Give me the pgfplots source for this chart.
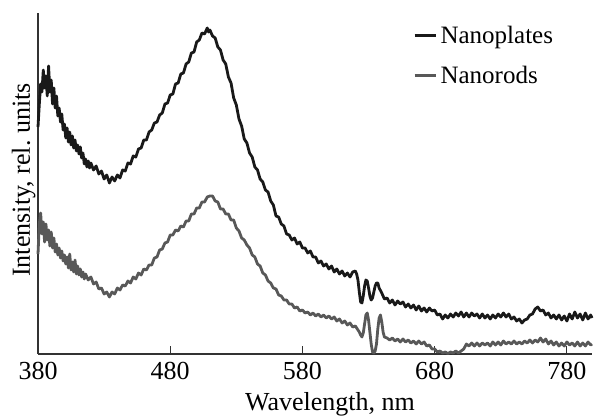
\documentclass[border=0pt]{standalone}
\usepackage{fontspec}
\setmainfont{Liberation Serif}
\usepackage{pgfplots}
\pgfplotsset{compat=1.18}
\definecolor{plates}{RGB}{25,25,25}
\definecolor{rods}{RGB}{88,88,88}
\definecolor{axc}{RGB}{50,50,50}
\begin{document}
\frenchspacing
\begin{tikzpicture}[x=1pt,y=1pt]
\useasboundingbox (0,0) rectangle (596,419);
\begin{axis}[
  at={(38pt,65pt)}, anchor=south west,
  scale only axis, width=554pt, height=341pt,
  xmin=380, xmax=799, ymin=0, ymax=341,
  axis x line=bottom, axis y line=left,
  axis line style={axc, line width=1.1pt, -},
  xtick={380,480,580,680,780}, ytick=\empty,
  tick align=inside, major tick length=8pt,
  every tick/.style={axc, line width=1.1pt},
  /pgf/number format/assume math mode=true,
  /pgf/number format/1000 sep={},
  xticklabel style={font=\fontsize{26}{30}\selectfont, anchor=base, yshift=-26pt},
  xlabel={Wavelength, nm},
  xlabel style={font=\fontsize{26}{30}\selectfont, at={(axis description cs:0.527,-0.147)}, anchor=center},
  ylabel={Intensity, rel. units},
  ylabel style={font=\fontsize{26}{30}\selectfont, at={(axis description cs:-0.026,0.51)}, anchor=center},
  clip=false,
  legend style={at={(axis description cs:0.677,0.962)}, anchor=north west, draw=none, fill=none,
    font=\fontsize{25}{29}\selectfont, row sep=21pt, inner sep=0pt, nodes={inner xsep=3.5pt, inner ysep=0pt}},
  legend cell align=left,
  legend image code/.code={\draw[#1, line width=2.8pt] (0pt,0pt) -- (21pt,0pt);},
]
\addplot[plates, line width=2.8pt, line join=round] coordinates {
(380,227)(381,250)(382,270)(383,262)(384,284)(385,266)(386,278)(387,258)(388,288)(389,262)(390,274)(391,250)(392,266)(393,246)(394,258)(395,238)(396,246)(397,232)(398,240)(399,224)(400,230)(401,216)(402,226)(403,212)(404,222)(405,209)(406,218)(407,206)(408,214)(409,203)(410,209)(411,200)(412,207)(413,196)(414,201)(415,190)(416,195)(417,187)(418,193)(419,186)(420,191)(422,184)(424,188)(426,180)(428,183)(430,175)(432,179)(434,171)(436,177)(438,173)(440,179)(442,176)(444,184)(446,183)(448,191)(450,190)(452,198)(454,197)(456,205)(458,206)(460,214)(462,214)(464,222)(466,224)(468,231)(470,232)(472,239)(474,241)(476,250)(478,251)(480,259)(482,260)(484,270)(486,271)(488,280)(490,281)(492,290)(494,292)(496,301)(498,302)(500,312)(502,314)(504,321)(506,320)(508,326)(509,322)(510,324)(512,318)(514,316)(516,307)(518,304)(520,294)(522,290)(524,277)(526,271)(528,256)(530,249)(532,235)(534,228)(536,215)(538,211)(540,201)(542,197)(544,187)(546,184)(548,175)(550,172)(552,164)(554,162)(556,153)(558,149)(560,138)(562,137)(564,130)(566,128)(568,120)(570,119)(572,114)(574,116)(576,110)(578,112)(580,106)(582,106)(584,101)(586,103)(588,97)(590,97)(592,91)(594,93)(596,88)(598,90)(600,85)(602,88)(604,82)(606,85)(608,80)(610,83)(612,78)(614,81)(616,77)(618,82)(620,83)(621,80)(622,74)(623,62)(624,52)(625,51)(626,58)(627,68)(628,74)(629,73)(630,66)(631,58)(632,54)(633,56)(634,62)(635,68)(636,71)(637,71)(638,66)(640,61)(642,55)(644,56)(646,51)(648,54)(650,49)(652,53)(654,50)(656,52)(658,47)(660,50)(662,46)(664,49)(666,44)(668,48)(670,43)(672,46)(674,42)(676,46)(678,43)(680,44)(682,39)(684,40)(686,35)(688,39)(690,36)(692,40)(694,37)(696,41)(698,38)(700,42)(702,37)(704,41)(706,37)(708,41)(710,38)(712,40)(714,36)(716,40)(718,36)(720,39)(722,35)(724,39)(726,36)(728,40)(730,37)(732,41)(734,37)(736,40)(738,35)(740,37)(742,33)(744,35)(746,31)(748,34)(750,35)(752,39)(754,40)(756,45)(758,47)(760,43)(762,44)(764,39)(766,41)(768,36)(770,39)(772,35)(774,39)(776,34)(778,38)(780,33)(782,40)(784,35)(786,42)(788,36)(790,40)(792,34)(794,41)(796,35)(798,39)(799,36)
};
\addlegendentry{Nanoplates}
\addplot[rods, line width=2.8pt, line join=round] coordinates {
(380,100)(381,130)(382,141)(383,120)(384,132)(385,112)(386,130)(387,114)(388,124)(389,108)(390,122)(391,106)(392,116)(393,102)(394,110)(395,99)(396,106)(397,96)(398,103)(399,93)(400,99)(401,90)(402,97)(403,86)(404,100)(405,84)(406,92)(407,82)(408,94)(409,80)(410,88)(411,79)(412,85)(413,77)(414,82)(415,75)(416,80)(418,74)(420,77)(422,70)(424,72)(426,65)(428,66)(430,60)(432,62)(434,57)(436,62)(438,60)(440,66)(442,64)(444,69)(446,68)(448,73)(450,71)(452,77)(454,75)(456,81)(458,79)(460,85)(462,84)(464,89)(466,89)(468,96)(470,97)(472,104)(474,105)(476,111)(478,112)(480,119)(482,119)(484,124)(486,123)(488,128)(490,127)(492,133)(494,133)(496,140)(498,140)(500,146)(502,146)(504,152)(506,152)(508,157)(510,158)(512,158)(514,153)(516,152)(518,145)(520,145)(522,140)(524,140)(526,134)(528,134)(530,126)(532,123)(534,116)(536,114)(538,109)(540,106)(542,99)(544,97)(546,90)(548,88)(550,81)(552,79)(554,73)(556,71)(558,66)(560,65)(562,59)(564,58)(566,54)(568,54)(570,50)(572,50)(574,46)(576,47)(578,43)(580,44)(582,41)(584,42)(586,39)(588,41)(590,38)(592,40)(594,37)(596,39)(598,36)(600,38)(602,35)(604,37)(606,33)(608,35)(610,31)(612,33)(614,29)(616,31)(618,27)(620,28)(622,24)(623,22)(624,19)(625,17)(626,21)(627,30)(628,39)(629,41)(630,34)(631,22)(632,10)(633,2)(634,1)(635,3)(636,10)(637,25)(638,36)(639,39)(640,32)(641,22)(642,17)(644,16)(646,14)(648,16)(650,13)(652,15)(654,12)(656,15)(658,12)(660,14)(662,11)(664,13)(666,10)(668,13)(670,10)(672,12)(674,8)(676,9)(678,5)(680,5)(682,2)(684,3)(686,1)(688,2)(690,0.5)(692,2)(694,1)(696,3)(698,1)(700,3)(702,5)(704,10)(706,8)(708,11)(710,8)(712,11)(714,8)(716,11)(718,9)(720,11)(722,8)(724,12)(726,9)(728,12)(730,9)(732,13)(734,10)(736,12)(738,10)(740,13)(742,10)(744,12)(746,10)(748,13)(750,11)(752,14)(754,11)(756,14)(758,12)(760,16)(762,12)(764,15)(766,10)(768,13)(770,9)(772,12)(774,8)(776,11)(778,8)(780,12)(782,9)(784,11)(786,8)(788,12)(790,8)(792,11)(794,8)(796,12)(798,9)(799,10)
};
\addlegendentry{Nanorods}
\end{axis}
\end{tikzpicture}
\end{document}
